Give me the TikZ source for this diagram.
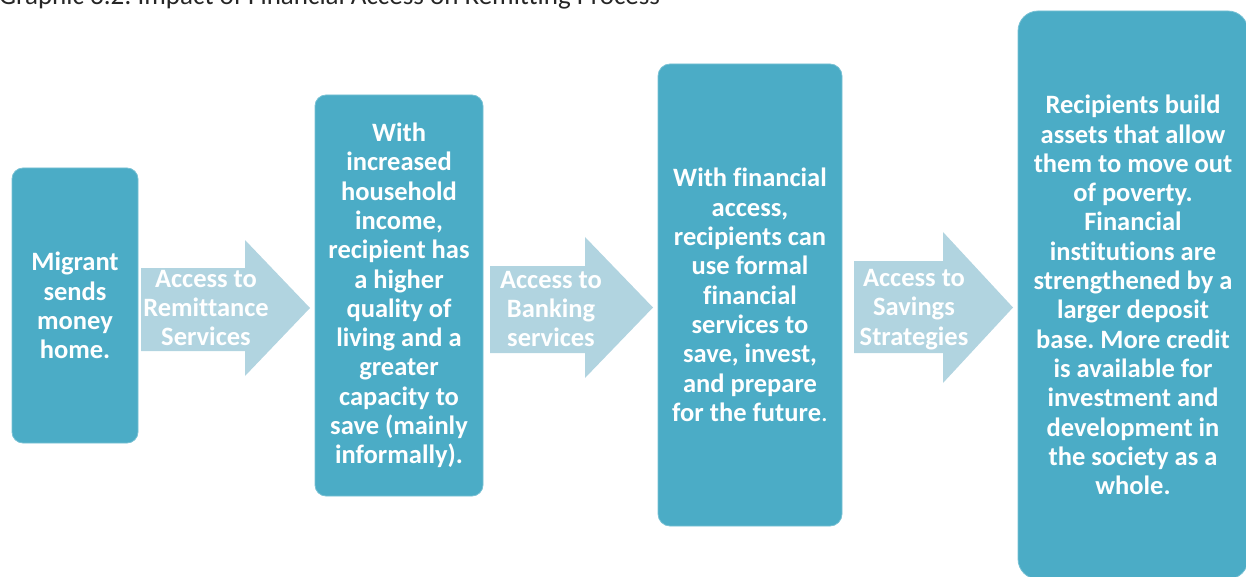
\documentclass[tikz,border=0pt]{standalone}
\usepackage{fontspec}
\setmainfont{Carlito}[Ligatures=NoCommon]
\frenchspacing
\begin{document}
\begin{tikzpicture}[x=1pt,y=-1pt,
  box/.style={fill=stepteal, draw=stepteal!75!white, line width=0.8pt,
    text=white, align=center, inner sep=0pt,
    font=\bfseries\fontsize{26.5}{29.3}\selectfont},
  arrowfill/.style={fill=arrowblue},
  arrowtext/.style={text=white, align=center, inner sep=0pt,
    font=\bfseries\fontsize{26.5}{29.3}\selectfont},
  title/.style={text=black!85, inner sep=0pt, anchor=base west,
    font=\fontsize{27}{30}\selectfont}]
\definecolor{stepteal}{HTML}{4BACC6}
\definecolor{arrowblue}{HTML}{B1D4E0}
\useasboundingbox (0,0) rectangle (1246,577);

% caption line, running off the top edge
\node[title] (caption) at (-1,5) {Graphic 3.2: Impact of Financial Access on Remitting Process};

% stage boxes
\node[box, minimum width=126pt, minimum height=275pt, rounded corners=11pt]
  (b1) at (75,305.5) {Migrant\\sends\\money\\home.};
\node[box, minimum width=168pt, minimum height=401pt, rounded corners=11pt]
  (b2) at (399,295.5) {With\\increased\\household\\income,\\recipient has\\a higher\\quality of\\living and a\\greater\\capacity to\\save (mainly\\informally).};
\node[box, minimum width=184pt, minimum height=462pt, rounded corners=12pt]
  (b3) at (750,295) {With financial\\access,\\recipients can\\use formal\\financial\\services to\\save, invest,\\and prepare\\for the future{\mdseries .}};
\node[box, minimum width=230pt, minimum height=568pt, rounded corners=20pt]
  (b4) at (1133,295) {Recipients build\\assets that allow\\them to move out\\of poverty.\\Financial\\institutions are\\strengthened by a\\larger deposit\\base. More credit\\is available for\\investment and\\development in\\the society as a\\whole.};

% block arrows between the stages
\fill[arrowfill] (141,268) -- (245,268) -- (245,240) -- (310,308)
  -- (245,376) -- (245,351) -- (141,351) -- cycle;
\fill[arrowfill] (490,266) -- (585,266) -- (585,237) -- (653,307.5)
  -- (585,378) -- (585,353) -- (490,353) -- cycle;
\fill[arrowfill] (854,261) -- (943,261) -- (943,232) -- (1013,307.5)
  -- (943,383) -- (943,353) -- (854,353) -- cycle;

\node[arrowtext] (a1) at (206,308) {Access to\\Remittance\\Services};
\node[arrowtext] (a2) at (551,309) {Access to\\Banking\\services};
\node[arrowtext] (a3) at (914,309.5) {Access to\\Savings\\Strategies};
\end{tikzpicture}
\end{document}
